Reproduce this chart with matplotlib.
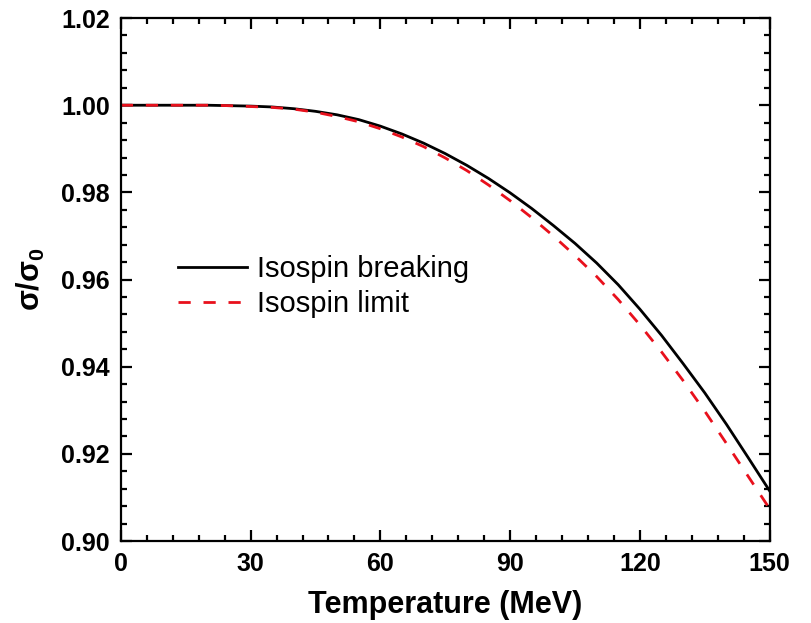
import matplotlib
matplotlib.use("Agg")
from matplotlib import pyplot as plt
from matplotlib.ticker import MultipleLocator, FormatStrFormatter

# data (sigma / sigma_0 vs temperature in MeV)
temperature = [0, 5, 10, 15, 20, 25, 30, 35, 40, 45, 50, 55, 60, 65, 70, 75,
               80, 85, 90, 95, 100, 105, 110, 115, 120, 125, 130, 135, 140, 145, 150]
sigma_breaking = [1.0000, 1.0000, 1.0000, 1.0000, 1.0000, 0.9999, 0.9998, 0.9996,
                  0.9992, 0.9986, 0.9978, 0.9967, 0.9952, 0.9934, 0.9913, 0.9889,
                  0.9862, 0.9832, 0.9799, 0.9763, 0.9724, 0.9683, 0.9638, 0.9588,
                  0.9532, 0.9472, 0.9407, 0.9340, 0.9268, 0.9192, 0.9115]
sigma_limit = [1.0000, 1.0000, 1.0000, 1.0000, 1.0000, 0.9999, 0.9997, 0.9995,
               0.9991, 0.9984, 0.9974, 0.9962, 0.9946, 0.9927, 0.9905, 0.9879,
               0.9850, 0.9817, 0.9781, 0.9742, 0.9700, 0.9655, 0.9607, 0.9554,
               0.9496, 0.9434, 0.9368, 0.9298, 0.9224, 0.9149, 0.9074]
labels = ["Isospin breaking", "Isospin limit"]

plt.rcParams['font.family'] = ['Liberation Sans', 'DejaVu Sans']
plt.rcParams['mathtext.fontset'] = 'custom'
plt.rcParams['mathtext.bf'] = 'Liberation Sans:bold'
plt.rcParams['mathtext.rm'] = 'Liberation Sans:bold'
plt.rcParams['mathtext.default'] = 'bf'

fig = plt.figure(figsize=(8.11, 6.23), dpi=100)
ax = fig.add_axes([0.149, 0.1316, 0.800, 0.8394])

ax.plot(temperature, sigma_breaking, color='black', lw=2.0, label=labels[0])
ax.plot(temperature, sigma_limit, color='#e8101c', lw=2.0, dashes=(4.4, 4.6), label=labels[1])

ax.set_xlim(0, 150)
ax.set_ylim(0.90, 1.02)
ax.xaxis.set_major_locator(MultipleLocator(30))
ax.xaxis.set_minor_locator(MultipleLocator(6))
ax.yaxis.set_major_locator(MultipleLocator(0.02))
ax.yaxis.set_minor_locator(MultipleLocator(0.004))
ax.yaxis.set_major_formatter(FormatStrFormatter('%.2f'))

ax.tick_params(which='both', direction='in', top=True, right=True, width=1.6)
ax.tick_params(which='major', length=8, labelsize=18, pad=8)
ax.tick_params(which='minor', length=4.5)
for lbl in ax.get_xticklabels() + ax.get_yticklabels():
    lbl.set_fontweight('bold')
for sp in ax.spines.values():
    sp.set_linewidth(1.6)

ax.set_xlabel("Temperature (MeV)", fontsize=22, fontweight='bold', labelpad=10)
ax.set_ylabel(r"σ/σ$_0$", fontsize=22, fontweight='bold', labelpad=10)

ax.legend(loc='upper left', bbox_to_anchor=(0.066, 0.575), frameon=False, fontsize=21,
          borderpad=0, handlelength=2.35, handletextpad=0.35, labelspacing=0.25)

fig.savefig("out.png", dpi=100)
